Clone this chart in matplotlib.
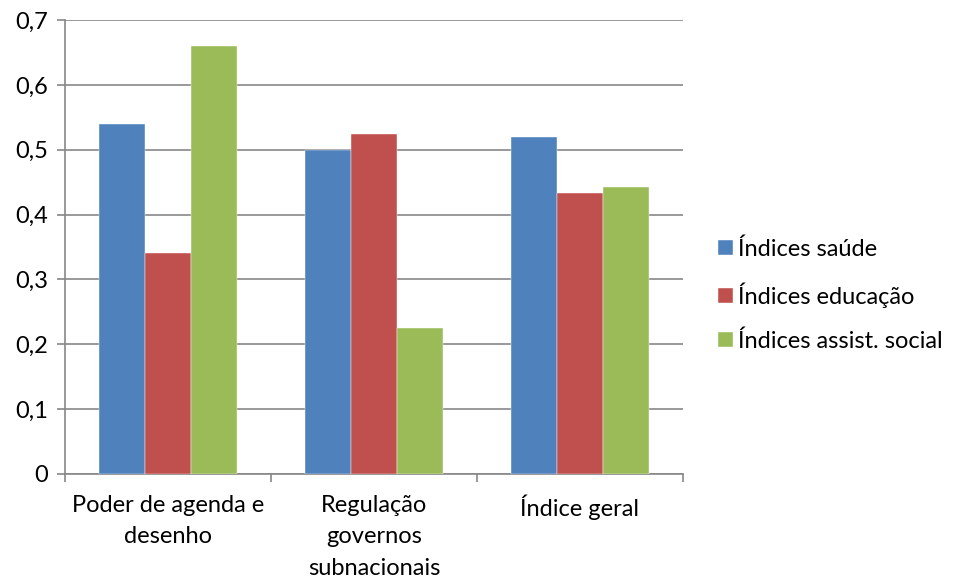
import matplotlib
matplotlib.use("Agg")
import matplotlib.pyplot as plt
from matplotlib.ticker import FuncFormatter, FixedLocator
import numpy as np

plt.rcParams["font.family"] = ["Lato", "DejaVu Sans"]

# ── dados ──
categorias = ["Poder de agenda e\ndesenho", "Regulação\ngovernos\nsubnacionais", "Índice geral"]
series = ["Índices saúde", "Índices educação", "Índices assist. social"]
saude = [0.54, 0.50, 0.52]
educacao = [0.34, 0.525, 0.433]
assist_social = [0.66, 0.225, 0.443]
cores = ["#4F81BD", "#C0504D", "#9BBB59"]

fig = plt.figure(figsize=(9.54, 5.8), dpi=100)
ax = fig.add_axes([65 / 954, 1 - 474 / 580, (683 - 65) / 954, (474 - 20) / 580])

x = np.arange(len(categorias))
w = 1 / 4.5  # gap 150% estilo Excel
for k, (nome, vals) in enumerate(zip(series, [saude, educacao, assist_social])):
    ax.bar(x + (k - 1) * w, vals, width=w, color=cores[k], label=nome,
           edgecolor="white", linewidth=0.3, zorder=3)

ax.set_xlim(-0.5, len(categorias) - 0.5)
ax.set_ylim(0, 0.7)
ax.set_yticks(np.arange(0, 0.71, 0.1))
ax.yaxis.set_major_formatter(FuncFormatter(
    lambda v, _: "0" if abs(v) < 1e-9 else f"{v:.1f}".replace(".", ",")))
ax.grid(axis="y", color="#878787", linewidth=1.2, zorder=0)

# ticks do eixo x nos limites das categorias
ax.xaxis.set_major_locator(FixedLocator(np.arange(-0.5, len(categorias), 1)))
ax.xaxis.set_major_formatter(FuncFormatter(lambda v, _: ""))
ax.xaxis.set_minor_locator(FixedLocator(x))
ax.set_xticklabels(categorias, minor=True)
ax.tick_params(axis="x", which="minor", length=0, pad=15, labelsize=17)
ax.tick_params(axis="x", which="major", length=6, color="#878787", width=1.2)
ax.tick_params(axis="y", length=6, color="#878787", width=1.2, labelsize=17, pad=6)
for lbl in ax.get_xticklabels(minor=True):
    lbl.set_horizontalalignment("center")
    lbl.set_multialignment("center")
    lbl.set_linespacing(1.62)

for s in ["top", "right"]:
    ax.spines[s].set_visible(False)
for s in ["left", "bottom"]:
    ax.spines[s].set_color("#878787")
    ax.spines[s].set_linewidth(1.2)

ax.legend(loc="center left", bbox_to_anchor=(718 / 954, 285 / 580),
          bbox_transform=fig.transFigure, frameon=False, fontsize=17,
          handlelength=0.65, handleheight=0.65, handletextpad=0.2,
          labelspacing=0.95, borderaxespad=0, borderpad=0)

fig.savefig("out.png", dpi=100)
